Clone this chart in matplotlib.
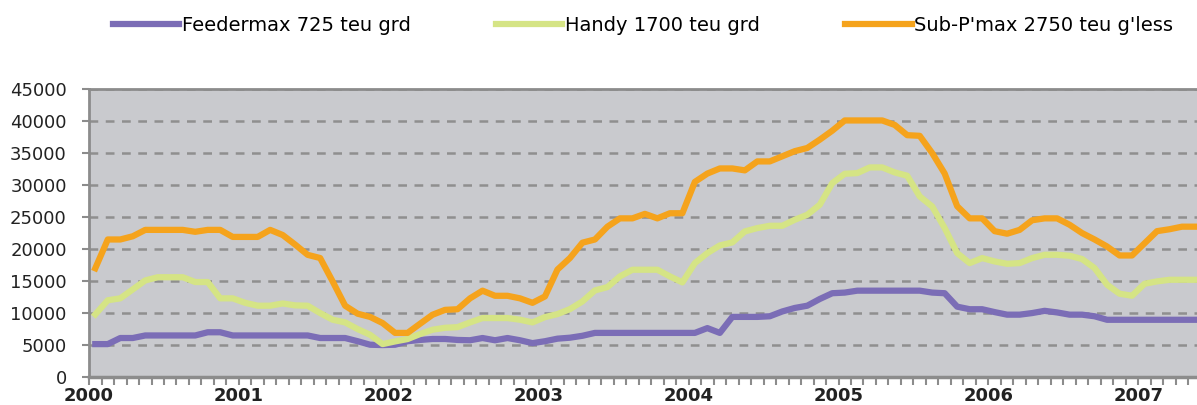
import matplotlib
matplotlib.use('Agg')
import matplotlib.pyplot as plt
import numpy as np

# monthly values, Jan 2000 .. May 2007
years = ['2000', '2001', '2002', '2003', '2004', '2005', '2006', '2007']

feedermax = [
    5150, 5150, 6100, 6100, 6500, 6500, 6500, 6500, 6500, 7000,
    7000, 6500, 6500, 6500, 6500, 6500, 6500, 6500, 6100, 6100,
    6100, 5600, 5050, 5000, 5050, 5600, 5800, 5950, 5950, 5800,
    5750, 6100, 5750, 6100, 5750, 5300, 5600, 6000, 6150, 6450,
    6900, 6900, 6900, 6900, 6900, 6900, 6900, 6900, 6900, 7650,
    6900, 9400, 9400, 9400, 9500, 10250, 10800, 11150, 12200, 13100,
    13200, 13500, 13500, 13500, 13500, 13500, 13500, 13200, 13100, 11000,
    10600, 10600, 10150, 9750, 9750, 10000, 10350, 10100, 9750, 9750,
    9500, 8950, 8950, 8950, 8950, 8950, 8950, 8950, 8950]

handy = [
    9800, 12000, 12300, 13700, 15100, 15600, 15600, 15600, 14850, 14850,
    12300, 12300, 11600, 11150, 11150, 11500, 11200, 11150, 10000, 8960,
    8540, 7500, 6600, 5150, 5570, 5940, 6720, 7400, 7700, 7800,
    8540, 9220, 9220, 9220, 8960, 8540, 9370, 9840, 10620, 11820,
    13540, 14060, 15730, 16770, 16770, 16770, 15730, 14790, 17810, 19370,
    20570, 21040, 22760, 23280, 23640, 23640, 24580, 25360, 26930, 30300,
    31770, 31870, 32760, 32760, 31980, 31460, 28230, 26660, 23280, 19370,
    17810, 18590, 18070, 17700, 17810, 18590, 19110, 19110, 18960, 18440,
    17030, 14430, 13020, 12710, 14580, 14950, 15200, 15200, 15200]

subpmax = [
    17000, 21500, 21500, 22000, 23000, 23000, 23000, 23000, 22700, 23000,
    23000, 21900, 21900, 21900, 23000, 22200, 20700, 19100, 18600, 14950,
    11150, 9900, 9400, 8440, 6900, 6900, 8330, 9740, 10500, 10600,
    12300, 13500, 12700, 12700, 12300, 11600, 12600, 16800, 18600, 21000,
    21500, 23500, 24800, 24800, 25500, 24800, 25600, 25600, 30500, 31800,
    32600, 32600, 32300, 33700, 33700, 34500, 35300, 35800, 37100, 38500,
    40100, 40100, 40100, 40100, 39400, 37800, 37700, 35000, 31800, 26700,
    24800, 24800, 22800, 22400, 23000, 24500, 24800, 24800, 23800, 22500,
    21500, 20400, 19000, 19000, 20900, 22800, 23100, 23500, 23500]

series = [
    ('Feedermax 725 teu grd', feedermax, '#7b6db6'),
    ('Handy 1700 teu grd', handy, '#d5e485'),
    ("Sub-P'max 2750 teu g'less", subpmax, '#f5a31c'),
]

plt.rcParams['font.family'] = ['DejaVu Sans']
grey = '#8c8c8c'

fig = plt.figure(figsize=(11.97, 4.05), dpi=100)
ax = fig.add_axes([0.0744, 0.069, 0.9256, 0.711])
ax.set_facecolor('#c9cace')

x = np.arange(len(feedermax)) + 0.5  # points sit mid-month
for name, vals, col in series:
    ax.plot(x, vals, color=col, lw=4.5, label=name, zorder=3)

ax.set_xlim(0, 88.7)
ax.set_ylim(0, 45000)
ax.set_yticks(np.arange(0, 45001, 5000))
ax.set_xticks(np.arange(0, 12 * len(years), 12))
ax.set_xticklabels(years)
ax.set_xticks(np.arange(0, 89), minor=True)

ax.yaxis.grid(True, color='#8f8f8f', lw=1.8, ls=(0, (3.5, 3)))
ax.set_axisbelow(True)

for side in ['left', 'bottom', 'top']:
    ax.spines[side].set_color(grey)
    ax.spines[side].set_linewidth(2)
ax.spines['bottom'].set_linewidth(2.5)
ax.spines['right'].set_visible(False)

ax.tick_params(axis='y', length=5, width=1.5, color=grey, labelsize=13,
               labelcolor='#222222', pad=11)
ax.tick_params(axis='x', which='both', length=6, width=1.5, color=grey,
               labelsize=13, labelcolor='#222222', pad=1)
for t in ax.get_xticklabels():
    t.set_fontweight('bold')

fig.legend(loc='center left', bbox_to_anchor=(0.094, 0.937), ncol=3,
           frameon=False, fontsize=14, handlelength=3.4, handletextpad=0.15,
           columnspacing=4.4, borderpad=0, borderaxespad=0)

fig.savefig('out.png', dpi=100)
